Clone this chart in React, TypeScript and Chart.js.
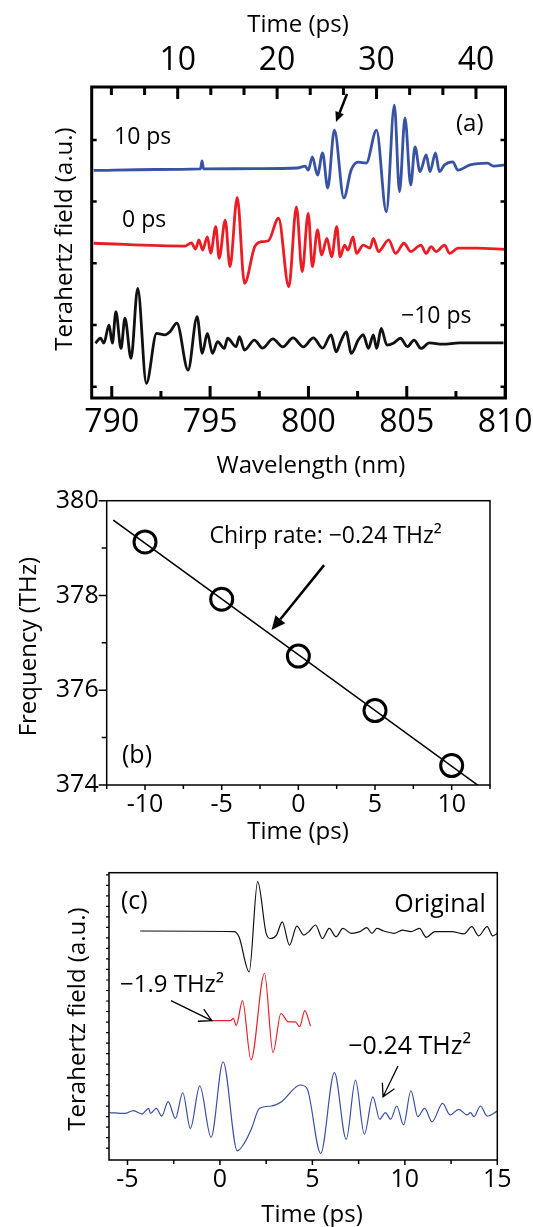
import React, { useEffect, useRef } from "react";
import { Chart, registerables } from "chart.js";
Chart.register(...registerables);

const FONT = "'Open Sans', 'Noto Sans', sans-serif";
const W = 533;

// ---------------- panel (a): THz field vs wavelength ----------------
const aWavelengthMajor = [790, 795, 800, 805, 810];
const aWavelengthMinor = [792.5, 797.5, 802.5, 807.5];
const aTimeMajor = [10, 20, 30, 40];
const aTimeMinor = [3.33, 6.67, 13.33, 16.67, 23.33, 26.67, 33.33, 36.67];
const aFieldTicks = [0, 2, 4, 6, 8];

const a10psWl = [789.08, 792.19, 794.51, 794.59, 794.67, 797.36, 799.43, 799.84, 799.99, 800.2, 800.46, 800.72, 800.98, 801.32, 801.8, 802.17, 802.53, 802.94, 803.46, 803.96, 804.37, 804.63, 804.91, 805.2, 805.42, 805.67, 805.99, 806.18, 806.46, 806.66, 806.92, 807.34, 807.6, 808.22, 809.1, 809.41, 810.0];
const a10psField = [7.01, 7.04, 7.06, 7.32, 7.06, 7.07, 7.09, 7.15, 7.02, 7.45, 6.86, 7.58, 6.44, 8.32, 6.12, 7.02, 7.28, 7.25, 8.32, 5.67, 9.13, 6.32, 8.71, 6.54, 7.77, 6.97, 7.51, 6.97, 7.58, 6.97, 7.19, 7.29, 7.02, 7.19, 7.25, 7.15, 7.19];

const a0psWl = [789.08, 793.74, 794.05, 794.26, 794.43, 794.62, 794.86, 795.03, 795.29, 795.46, 795.77, 796.01, 796.38, 796.75, 797.27, 797.62, 797.96, 798.48, 799.0, 799.39, 799.68, 799.99, 800.2, 800.46, 800.67, 800.94, 801.18, 801.44, 801.61, 801.84, 802.01, 802.27, 802.44, 802.79, 803.13, 803.3, 803.56, 804.08, 804.43, 804.86, 805.2, 805.72, 805.98, 806.24, 806.49, 806.92, 807.18, 807.61, 808.56, 810.0];
const a0psField = [4.65, 4.56, 4.66, 4.46, 4.76, 4.43, 4.86, 4.33, 5.19, 4.16, 5.4, 3.89, 6.14, 3.35, 4.54, 4.7, 4.73, 5.46, 3.24, 5.83, 3.73, 5.62, 3.89, 5.08, 4.27, 4.81, 4.21, 5.19, 4.21, 4.59, 4.43, 4.86, 4.32, 4.59, 4.49, 4.81, 4.38, 4.76, 4.32, 4.65, 4.38, 4.59, 4.32, 4.54, 4.38, 4.59, 4.32, 4.49, 4.49, 4.45];

const aM10psWl = [789.17, 789.43, 789.6, 789.86, 790.03, 790.21, 790.47, 790.67, 790.98, 791.32, 791.76, 792.28, 792.7, 792.96, 793.31, 793.88, 794.34, 794.6, 794.86, 795.12, 795.38, 795.72, 795.89, 796.32, 796.49, 796.75, 797.25, 797.67, 798.19, 798.7, 799.22, 799.74, 800.25, 800.72, 801.15, 801.41, 801.65, 801.92, 802.18, 802.53, 802.79, 803.05, 803.3, 803.47, 803.7, 803.99, 804.34, 804.68, 805.03, 805.37, 805.72, 806.15, 806.82, 807.7, 809.92];
const aM10psField = [1.41, 1.57, 1.41, 2.0, 1.41, 2.43, 1.24, 2.22, 0.92, 3.19, 0.11, 1.73, 1.68, 1.78, 2.06, 0.54, 2.27, 1.08, 1.73, 1.08, 1.46, 1.24, 1.57, 1.3, 1.62, 1.19, 1.51, 1.25, 1.55, 1.29, 1.58, 1.29, 1.58, 1.25, 1.68, 1.13, 1.48, 1.78, 1.08, 1.51, 1.68, 1.24, 1.68, 1.24, 1.89, 1.35, 1.42, 1.57, 1.3, 1.51, 1.24, 1.42, 1.38, 1.42, 1.42];

// ---------------- panel (b): frequency vs time ----------------
const bTime = [-10, -5, 0, 5, 10];
const bFreq = [379.13, 377.92, 376.72, 375.57, 374.41];
const bFitTime = [-12.07, 12.07];
const bFitFreq = [379.59, 373.91];
const bTimeMajor = [-10, -5, 0, 5, 10];
const bTimeMinor = [-12.5, -7.5, -2.5, 2.5, 7.5, 12.5];
const bFreqMajor = [374, 376, 378, 380];
const bFreqMinor = [375, 377, 379];

// ---------------- panel (c): compressed pulses ----------------
const cOrigT = [-4.31, 0.76, 1.03, 1.58, 2.04, 2.5, 2.74, 3.06, 3.37, 3.76, 4.16, 4.53, 4.81, 5.17, 5.54, 5.91, 6.28, 6.65, 7.11, 7.57, 7.94, 8.22, 8.49, 8.86, 9.41, 9.87, 10.33, 10.79, 11.16, 11.62, 12.54, 13.19, 13.62, 13.99, 14.45, 14.75, 15.0];
const cOrigField = [7.97, 7.95, 7.77, 6.55, 9.69, 7.89, 7.71, 7.83, 8.29, 7.48, 8.14, 7.83, 7.95, 8.18, 7.71, 8.06, 7.77, 8.06, 7.89, 7.95, 8.09, 7.89, 8.06, 7.97, 7.89, 8.0, 7.95, 8.06, 7.75, 7.95, 7.95, 7.87, 8.12, 7.8, 8.12, 7.8, 7.89];

const c19T = [-0.44, 0.57, 0.72, 0.88, 1.22, 1.68, 2.41, 2.87, 3.3, 3.7, 4.07, 4.31, 4.59, 4.9];
const c19Field = [4.85, 4.85, 4.93, 4.68, 5.55, 3.48, 6.5, 3.74, 5.1, 4.81, 4.81, 4.64, 5.2, 4.66];

const c024T = [-5.97, -5.14, -4.68, -4.22, -3.85, -3.76, -3.44, -3.15, -2.8, -2.41, -2.01, -1.6, -1.09, -0.48, 0.17, 0.94, 1.31, 1.71, 2.14, 2.78, 3.33, 4.35, 4.71, 5.45, 6.19, 6.83, 7.33, 7.81, 8.27, 8.64, 8.95, 9.23, 9.56, 9.93, 10.33, 10.7, 11.07, 11.47, 12.04, 12.45, 12.91, 13.37, 13.55, 13.74, 14.09, 14.45, 15.0];
const c024Field = [1.65, 1.62, 1.72, 1.6, 1.8, 1.62, 1.8, 1.53, 2.03, 1.45, 2.34, 1.1, 2.58, 0.79, 3.42, 0.32, 0.58, 1.1, 1.8, 1.88, 2.03, 2.61, 2.49, 0.23, 3.04, 0.72, 2.78, 0.9, 2.2, 1.42, 1.65, 1.42, 1.88, 1.22, 2.41, 1.51, 1.8, 1.33, 1.97, 1.57, 1.76, 1.57, 1.65, 1.51, 1.88, 1.53, 1.7];

const cTimeMajor = [-5, 0, 5, 10, 15];
const cTimeMinor = [-2.5, 2.5, 7.5, 12.5];

// ---------------- helpers ----------------
const zip = (xs: number[], ys: number[]) => xs.map((x, i) => ({ x, y: ys[i] }));

type Txt = { t: string; x: number; y: number; size: number; align?: CanvasTextAlign; rot?: boolean };
type Arw = { x1: number; y1: number; x2: number; y2: number; w: number; head: number; filled: boolean };
type Tk = { axis: string; edge: "top" | "bottom" | "left" | "right"; values: number[]; len: number; out?: boolean; w: number };
type Deco = { frame: number; ticks: Tk[]; arrows: Arw[]; texts: Txt[]; xId: string; yId: string };

function decoPlugin(d: Deco) {
  return {
    id: "deco",
    afterDraw(chart: any) {
      const ctx: CanvasRenderingContext2D = chart.ctx;
      const a = chart.chartArea;
      ctx.save();
      ctx.strokeStyle = "#000";
      ctx.fillStyle = "#000";
      ctx.lineCap = "butt";
      for (const tk of d.ticks) {
        const s = chart.scales[tk.axis];
        ctx.lineWidth = tk.w;
        ctx.beginPath();
        const sg = tk.out ? -1 : 1;
        for (const v of tk.values) {
          const p = s.getPixelForValue(v);
          if (tk.edge === "bottom") { ctx.moveTo(p, a.bottom); ctx.lineTo(p, a.bottom - sg * tk.len); }
          else if (tk.edge === "top") { ctx.moveTo(p, a.top); ctx.lineTo(p, a.top + sg * tk.len); }
          else if (tk.edge === "left") { ctx.moveTo(a.left, p); ctx.lineTo(a.left + sg * tk.len, p); }
          else { ctx.moveTo(a.right, p); ctx.lineTo(a.right - sg * tk.len, p); }
        }
        ctx.stroke();
      }
      ctx.lineWidth = d.frame;
      ctx.lineJoin = "miter";
      ctx.strokeRect(a.left, a.top, a.right - a.left, a.bottom - a.top);
      const sx = chart.scales[d.xId];
      const sy = chart.scales[d.yId];
      for (const ar of d.arrows) {
        const x1 = sx.getPixelForValue(ar.x1), y1 = sy.getPixelForValue(ar.y1);
        const x2 = sx.getPixelForValue(ar.x2), y2 = sy.getPixelForValue(ar.y2);
        const ang = Math.atan2(y2 - y1, x2 - x1);
        ctx.lineWidth = ar.w;
        ctx.beginPath();
        if (ar.filled) {
          const bx = x2 - ar.head * Math.cos(ang), by = y2 - ar.head * Math.sin(ang);
          ctx.moveTo(x1, y1); ctx.lineTo(bx, by); ctx.stroke();
          const hw = ar.head * 0.45;
          ctx.beginPath();
          ctx.moveTo(x2, y2);
          ctx.lineTo(bx + hw * Math.sin(ang), by - hw * Math.cos(ang));
          ctx.lineTo(bx - hw * Math.sin(ang), by + hw * Math.cos(ang));
          ctx.closePath();
          ctx.fill();
        } else {
          ctx.moveTo(x1, y1); ctx.lineTo(x2, y2);
          const da = 0.5;
          ctx.moveTo(x2 - ar.head * Math.cos(ang - da), y2 - ar.head * Math.sin(ang - da));
          ctx.lineTo(x2, y2);
          ctx.lineTo(x2 - ar.head * Math.cos(ang + da), y2 - ar.head * Math.sin(ang + da));
          ctx.stroke();
        }
      }
      ctx.textBaseline = "alphabetic";
      for (const t of d.texts) {
        ctx.font = `${t.size}px ${FONT}`;
        if (t.rot) {
          ctx.save();
          ctx.translate(t.x, t.y);
          ctx.rotate(-Math.PI / 2);
          ctx.textAlign = "center";
          ctx.fillText(t.t, 0, 0);
          ctx.restore();
        } else {
          ctx.textAlign = t.align ?? "left";
          ctx.fillText(t.t, t.x, t.y);
        }
      }
      ctx.restore();
    },
  };
}

const hFit = (h: number) => (s: any) => { s.height = h; s.paddingLeft = 0; s.paddingRight = 0; };
const vFit = (w: number) => (s: any) => { s.width = w; s.paddingTop = 0; s.paddingBottom = 0; };
const fixedTicks = (vals: number[]) => (s: any) => { s.ticks = vals.map((value) => ({ value })); };
const noGrid = { display: false, drawTicks: false };
const noBorder = { display: false };

const common = (padding: any) => ({
  responsive: false,
  animation: false as const,
  events: [] as any[],
  devicePixelRatio: 1,
  layout: { padding, autoPadding: false },
  plugins: { legend: { display: false }, tooltip: { enabled: false } },
});

const trace = (xs: number[], ys: number[], color: string, w: number, xAxisID = "x") => ({
  data: zip(xs, ys),
  borderColor: color,
  borderWidth: w,
  pointRadius: 0,
  fill: false,
  cubicInterpolationMode: "monotone" as const,
  xAxisID,
  yAxisID: "y",
});

// ---------------- chart configs ----------------
function configA(): any {
  return {
    type: "line",
    data: {
      datasets: [
        trace(a10psWl, a10psField, "#3853a4", 2.8),
        trace(a0psWl, a0psField, "#ec1c24", 2.8),
        trace(aM10psWl, aM10psField, "#111111", 2.8),
      ],
    },
    options: {
      ...common({ left: 0, right: 27.5, top: 0, bottom: 0 }),
      scales: {
        x: {
          type: "linear", position: "bottom", min: 788.98, max: 810.02,
          grid: noGrid, border: noBorder,
          afterBuildTicks: fixedTicks(aWavelengthMajor),
          ticks: { autoSkip: false, maxRotation: 0, color: "#000", padding: 5.4, font: { family: FONT, size: 32 } },
          afterFit: hFit(82),
        },
        x2: {
          type: "linear", position: "top", min: 1.35, max: 42.97,
          grid: noGrid, border: noBorder,
          afterBuildTicks: fixedTicks(aTimeMajor),
          ticks: { autoSkip: false, maxRotation: 0, color: "#000", padding: 6.9, font: { family: FONT, size: 32 } },
          afterFit: hFit(87),
        },
        y: {
          type: "linear", position: "left", min: -0.366, max: 9.715,
          grid: noGrid, border: noBorder, ticks: { display: false },
          afterFit: vFit(91.7),
        },
      },
    },
    plugins: [
      decoPlugin({
        frame: 3, xId: "x", yId: "y",
        ticks: [
          { axis: "x", edge: "bottom", values: aWavelengthMajor, len: 12, w: 3 },
          { axis: "x", edge: "bottom", values: aWavelengthMinor, len: 7, w: 3 },
          { axis: "x2", edge: "top", values: aTimeMajor, len: 12, w: 3 },
          { axis: "x2", edge: "top", values: aTimeMinor, len: 8, w: 3 },
          { axis: "y", edge: "left", values: aFieldTicks, len: 5, w: 2.5 },
          { axis: "y", edge: "right", values: aFieldTicks, len: 5, w: 2.5 },
        ],
        arrows: [{ x1: 801.96, y1: 9.49, x2: 801.4, y2: 8.58, w: 2.5, head: 10, filled: true }],
        texts: [
          { t: "Time (ps)", x: 298, y: 31.5, size: 24, align: "center" },
          { t: "Wavelength (nm)", x: 311, y: 473.3, size: 24, align: "center" },
          { t: "Terahertz field (a.u.)", x: 71.5, y: 239, size: 24, rot: true },
          { t: "10 ps", x: 114, y: 144, size: 23 },
          { t: "0 ps", x: 122, y: 227.3, size: 23 },
          { t: "\u221210 ps", x: 401, y: 322.7, size: 23 },
          { t: "(a)", x: 456, y: 131, size: 24 },
        ],
      }),
    ],
  };
}

function configB(): any {
  return {
    type: "line",
    data: {
      datasets: [
        {
          data: zip(bFitTime, bFitFreq), borderColor: "#000", borderWidth: 1.5, pointRadius: 0, fill: false,
          xAxisID: "x", yAxisID: "y",
        },
        {
          data: zip(bTime, bFreq), showLine: false, borderColor: "#000", backgroundColor: "rgba(0,0,0,0)",
          pointRadius: 11, pointBorderWidth: 3, pointStyle: "circle", xAxisID: "x", yAxisID: "y",
        },
      ],
    },
    options: {
      ...common({ left: 0, right: 43, top: 20.7, bottom: 0 }),
      scales: {
        x: {
          type: "linear", position: "bottom", min: -12.5, max: 12.5,
          grid: noGrid, border: noBorder,
          afterBuildTicks: fixedTicks(bTimeMajor),
          ticks: { autoSkip: false, maxRotation: 0, color: "#000", padding: 5.3, font: { family: FONT, size: 25 } },
          afterFit: hFit(65),
        },
        y: {
          type: "linear", position: "left", min: 374, max: 380,
          grid: noGrid, border: noBorder,
          afterBuildTicks: fixedTicks(bFreqMajor),
          ticks: { color: "#000", padding: 8, font: { family: FONT, size: 25 } },
          afterFit: vFit(106.7),
        },
      },
    },
    plugins: [
      decoPlugin({
        frame: 1.5, xId: "x", yId: "y",
        ticks: [
          { axis: "x", edge: "bottom", values: bTimeMajor, len: 5, out: true, w: 1.5 },
          { axis: "x", edge: "bottom", values: bTimeMinor, len: 4, out: true, w: 1.5 },
          { axis: "y", edge: "left", values: bFreqMajor, len: 8, out: true, w: 1.5 },
          { axis: "y", edge: "left", values: bFreqMinor, len: 5, out: true, w: 1.5 },
        ],
        arrows: [{ x1: 1.68, y1: 378.64, x2: -1.75, y2: 377.27, w: 2.5, head: 14, filled: true }],
        texts: [
          { t: "Chirp rate: \u22120.24 THz\u00b2", x: 209.5, y: 63.3, size: 23 },
          { t: "(b)", x: 122, y: 283, size: 25 },
          { t: "Frequency (THz)", x: 36, y: 166.7, size: 24, rot: true },
          { t: "Time (ps)", x: 298, y: 358.7, size: 24, align: "center" },
        ],
      }),
    ],
  };
}

function configC(): any {
  const leftTicks: number[] = [];
  for (let v = 0.41; v < 9.95; v += 0.366) leftTicks.push(v);
  return {
    type: "line",
    data: {
      datasets: [
        trace(cOrigT, cOrigField, "#111111", 1.2),
        trace(c19T, c19Field, "#e8202a", 1.2),
        trace(c024T, c024Field, "#3a4fa3", 1.2),
      ],
    },
    options: {
      ...common({ left: 0, right: 35.7, top: 22.7, bottom: 0 }),
      scales: {
        x: {
          type: "linear", position: "bottom", min: -6, max: 15,
          grid: noGrid, border: noBorder,
          afterBuildTicks: fixedTicks(cTimeMajor),
          ticks: { autoSkip: false, maxRotation: 0, color: "#000", padding: 5.3, font: { family: FONT, size: 25 } },
          afterFit: hFit(67),
        },
        y: {
          type: "linear", position: "left", min: 0, max: 10,
          grid: noGrid, border: noBorder, ticks: { display: false },
          afterFit: vFit(109),
        },
      },
    },
    plugins: [
      decoPlugin({
        frame: 1.5, xId: "x", yId: "y",
        ticks: [
          { axis: "x", edge: "bottom", values: cTimeMajor, len: 5, out: true, w: 1.5 },
          { axis: "x", edge: "bottom", values: cTimeMinor, len: 4, out: true, w: 1.5 },
          { axis: "y", edge: "left", values: leftTicks, len: 3, out: true, w: 1.2 },
        ],
        arrows: [
          { x1: -2.65, y1: 5.55, x2: -0.44, y2: 4.85, w: 1.3, head: 14, filled: false },
          { x1: 9.63, y1: 3.27, x2: 8.82, y2: 2.2, w: 1.3, head: 14, filled: false },
        ],
        texts: [
          { t: "(c)", x: 121, y: 59, size: 25 },
          { t: "Original", x: 485.7, y: 62, size: 25, align: "right" },
          { t: "\u22121.9 THz\u00b2", x: 120, y: 141.7, size: 24 },
          { t: "\u22120.24 THz\u00b2", x: 348.3, y: 204, size: 25 },
          { t: "Terahertz field (a.u.)", x: 85.3, y: 169, size: 24, rot: true },
          { t: "Time (ps)", x: 312, y: 371.7, size: 24, align: "center" },
        ],
      }),
    ],
  };
}

function Panel({ make, top, height }: { make: () => any; top: number; height: number }) {
  const ref = useRef<HTMLCanvasElement>(null);
  useEffect(() => {
    const chart = new Chart(ref.current as HTMLCanvasElement, make());
    return () => chart.destroy();
  }, []);
  return (
    <canvas
      ref={ref}
      width={W}
      height={height}
      style={{ position: "absolute", left: 0, top, width: W, height }}
    />
  );
}

export default function App() {
  return (
    <div style={{ position: "absolute", left: 0, top: 0, width: W, height: 1227, background: "#fff", overflow: "hidden" }}>
      <Panel make={configA} top={0} height={480} />
      <Panel make={configB} top={480} height={370} />
      <Panel make={configC} top={850} height={377} />
    </div>
  );
}
